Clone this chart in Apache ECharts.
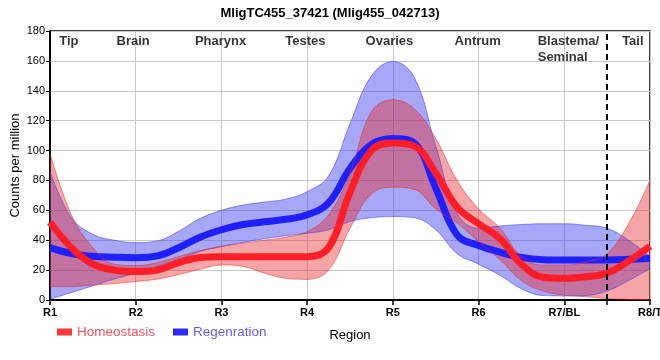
<!DOCTYPE html>
<html>
<head>
<meta charset="utf-8">
<script src="https://cdn.jsdelivr.net/npm/echarts@6/dist/echarts.min.js"></script>
<style>html,body{margin:0;padding:0;background:#fff}#c{width:660px;height:360px}</style>
</head>
<body>
<div id="c"></div>
<script>
// Sample positions along the region axis (R1 = 1 ... R8/T = 8)
const samplePos = ['1','1.25','1.5','1.75','2','2.25','2.5','2.75','3','3.25','3.5','3.75','4','4.25','4.5','4.75','5','5.25','5.5','5.75','6','6.25','6.5','6.75','7','7.25','7.5','7.75','8'];
const tickLabels = ['R1','R2','R3','R4','R5','R6','R7/BL','R8/T'];

// Homeostasis (red)
const homeoMean  = [52,35,24,20,19,20,25,28.5,29,29,29,29,29,35,72,100,105,103,85,62,51,41,24,15.2,14.5,15.5,18,26,36];
const homeoUpper = [98,57,35,24,23,25,29,33,36,38,40,42,45.8,57,85,126,134,128,108,80,61,48,29,23.4,23.4,25.5,31,51,80];
const homeoLower = [9,9,10,11,12.3,14,17,20.5,23.4,22.5,18,14.5,13.8,20,48,71,75.5,74,61,51.5,39,27,13,6,3.3,2.2,1,0.4,0];

// Regenration (blue)
const regenMean  = [35,31,29.2,28.6,28.3,29.5,35,42,47,50.5,52.3,54,57,65,88,104,108,105,75,43.5,36.5,32,28.5,27,26.8,26.8,26.8,27.2,28];
const regenUpper = [86,55,44,40,38.4,39.5,46,54.5,60,63.5,65.5,67.5,72.5,83,118,150,159.6,149,103,58,48,49.5,50.5,51,51,50,48,40,29];
const regenLower = [0.5,5,9.5,14,18,22.5,27,32.5,35.7,38.5,41,43,44.6,47,52.5,55,55.8,55,47,31,24,16.5,7.5,3,2.7,3,6,13,21];

// Region annotations (top of plot)
const regionNames = ['Tip','Brain','Pharynx','Testes','Ovaries','Antrum','Blastema/\nSeminal','Tail'];
const regionPos   = [1.22,1.97,2.99,3.98,4.96,5.99,6.69,7.8];
const regionAlign = ['center','center','center','center','center','center','left','center'];
const regionTop = 178.7;
const dividerPos = 7.5;

const diff = (u, l) => u.map((v, i) => +(v - l[i]).toFixed(2));

const chart = echarts.init(document.getElementById('c'), null, {renderer: 'canvas'});
const FONT = 'Liberation Sans, Arial, sans-serif';

const bandSeries = (id, lower, upper, fill, edge) => ([
  {
    name: id + 'Low', type: 'line', stack: id, data: lower, smooth: 0.4,
    symbol: 'none', silent: true, xAxisIndex: 0,
    lineStyle: {width: 1, color: edge}
  },
  {
    name: id + 'Band', type: 'line', stack: id, data: diff(upper, lower), smooth: 0.4,
    symbol: 'none', silent: true, xAxisIndex: 0,
    lineStyle: {width: 1, color: edge}, areaStyle: {color: fill, opacity: 1}
  }
]);

const option = {
  animation: false,
  backgroundColor: '#fff',
  textStyle: {fontFamily: FONT},
  title: {
    text: 'MligTC455_37421 (Mlig455_042713)',
    left: 'center', top: 2,
    textStyle: {fontFamily: FONT, fontWeight: 'bold', fontSize: 13, color: '#000'}
  },
  legend: {
    left: 52, top: 320, icon: 'rect', itemWidth: 15, itemHeight: 7, itemGap: 18,
    textStyle: {fontFamily: FONT, fontSize: 13.5},
    data: [
      {name: 'Homeostasis', textStyle: {color: '#ff4d5a'}},
      {name: 'Regenration', textStyle: {color: '#5f5fff'}}
    ]
  },
  grid: {left: 50, right: 10, top: 31, bottom: 60, show: true, borderColor: '#000', borderWidth: 1.5,
    containLabel: false, outerBoundsMode: 'none'},
  xAxis: [
    {
      type: 'category', data: samplePos, boundaryGap: false,
      name: 'Region', nameLocation: 'middle', nameGap: 29, nameMoveOverlap: false,
      nameTextStyle: {fontFamily: FONT, fontSize: 13, color: '#000'},
      axisLine: {lineStyle: {color: '#000', width: 2}},
      axisTick: {show: true, length: 5, lineStyle: {color: '#000', width: 1.5},
        interval: (i) => i % 4 === 0 || samplePos[i] === String(dividerPos)},
      axisLabel: {
        interval: (i) => i % 4 === 0,
        formatter: (v, i) => (i % 4 === 0 ? tickLabels[i / 4] : ''),
        fontFamily: FONT, fontWeight: 'bold', fontSize: 11, color: '#000', margin: 7,
        hideOverlap: false
      },
      splitLine: {show: true, interval: (i) => i % 4 === 0, lineStyle: {color: '#c8c8c8', width: 1}}
    },
    {type: 'value', min: 1, max: 8, show: false}
  ],
  yAxis: {
    type: 'value', min: 0, max: 180, interval: 20,
    name: 'Counts per million', nameLocation: 'middle', nameGap: 28, nameMoveOverlap: false,
    nameTextStyle: {fontFamily: FONT, fontSize: 13, color: '#000'},
    axisLine: {show: true, lineStyle: {color: '#000', width: 2}},
    axisTick: {show: true, length: 4, lineStyle: {color: '#000'}},
    axisLabel: {fontFamily: FONT, fontSize: 11, color: '#000', margin: 5},
    splitLine: {lineStyle: {color: '#c8c8c8', width: 1}}
  },
  series: [
    ...bandSeries('regen', regenLower, regenUpper, 'rgba(60,60,240,0.45)', 'rgba(60,60,240,0.55)'),
    {
      name: 'Regenration', type: 'line', data: regenMean, smooth: 0.4, symbol: 'none', clip: false,
      lineStyle: {width: 7, color: '#2020ff'}, itemStyle: {color: '#2a2aff'}
    },
    ...bandSeries('homeo', homeoLower, homeoUpper, 'rgba(230,40,40,0.42)', 'rgba(225,40,40,0.5)'),
    {
      name: 'Homeostasis', type: 'line', data: homeoMean, smooth: 0.4, symbol: 'none', clip: false,
      lineStyle: {width: 7, color: '#ff1e28'}, itemStyle: {color: '#ff3a3a'}
    },
    {
      name: 'regions', type: 'scatter', xAxisIndex: 1, yAxisIndex: 0, symbolSize: 0, silent: true,
      data: regionNames.map((n, i) => ({
        name: n, value: [regionPos[i], regionTop],
        label: {align: regionAlign[i]}
      })),
      label: {
        show: true, position: 'inside', formatter: '{b}', verticalAlign: 'top',
        fontFamily: FONT, fontWeight: 'bold', fontSize: 13, lineHeight: 16, color: '#000'
      },
      markLine: {
        silent: true, symbol: 'none', label: {show: false},
        lineStyle: {type: [6, 4], color: '#000', width: 2},
        data: [{xAxis: dividerPos}]
      }
    }
  ]
};
chart.setOption(option);
</script>
</body>
</html>
